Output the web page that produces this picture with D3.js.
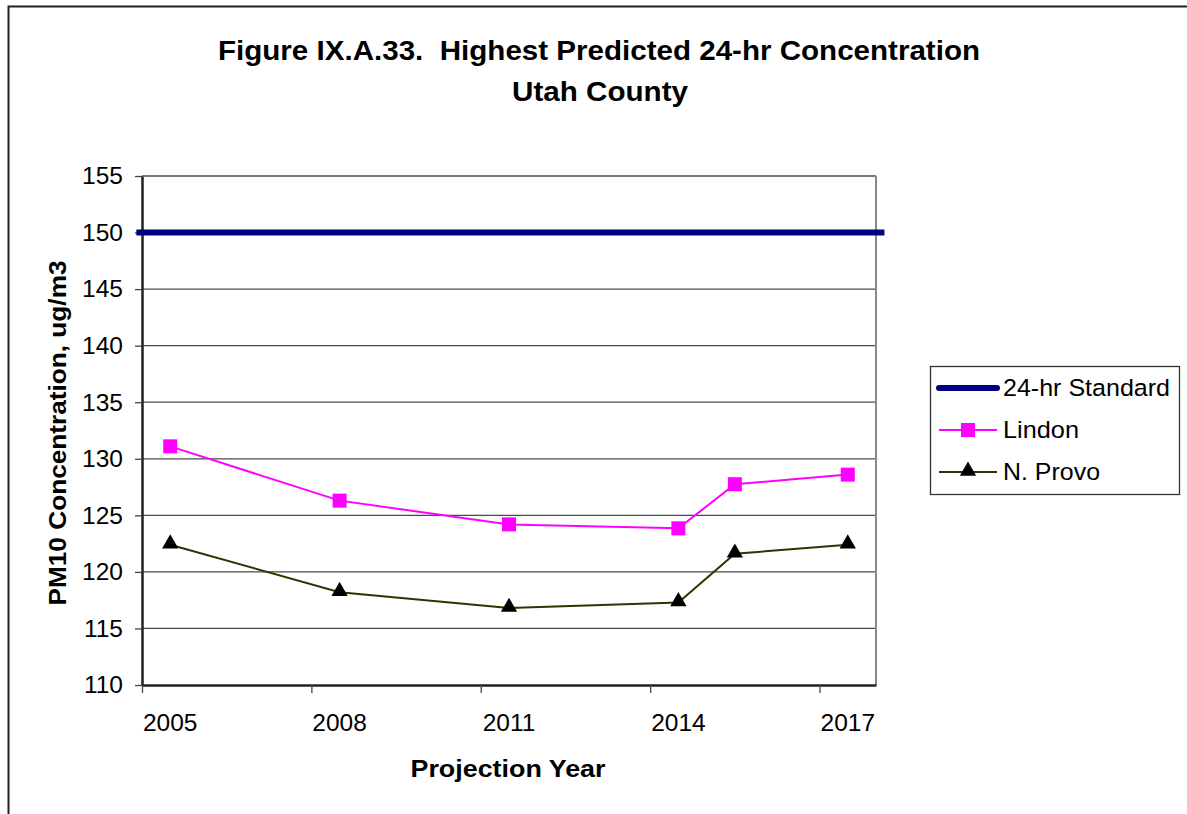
<!DOCTYPE html>
<html lang="en">
<head>
    <meta charset="utf-8">
    <title>Highest Predicted 24-hr Concentration - Utah County</title>
    <script src="https://d3js.org/d3.v7.min.js"></script>
    <style>
        body { margin: 0; background: #fff; }
        text { font-family: "Liberation Sans", Arial, sans-serif; fill: #000; }
    </style>
</head>
<body>
    <div id="chart-container"></div>

    <script>
        // data
        const years = [2005, 2008, 2011, 2014, 2015, 2017];
        const lindon = [131.1, 126.3, 124.2, 123.85, 127.75, 128.6];
        const nProvo = [122.4, 118.2, 116.8, 117.3, 121.6, 122.4];
        const standardYears = [2004.4, 2017.65];
        const standardValues = [150, 150];

        const yTicks = [110, 115, 120, 125, 130, 135, 140, 145, 150, 155];
        const xLabels = [2005, 2008, 2011, 2014, 2017];
        const xTickMarks = [2004.5, 2007.5, 2010.5, 2013.5, 2016.5];
        const seriesNames = ['24-hr Standard', 'Lindon', 'N. Provo'];

        const width = 1187;
        const height = 814;

        const plotLeft = 142;
        const plotRight = 876;
        const plotTop = 176;
        const plotBottom = 685;

        const svg = d3.select('#chart-container')
            .append('svg')
            .attr('width', width)
            .attr('height', height);

        // outer frame (only top and left edges show)
        svg.append('path')
            .attr('d', `M8.5,${height} V6.5 H${width}`)
            .style('fill', 'none')
            .style('stroke', '#222')
            .style('stroke-width', 2);

        const xScale = d3.scaleLinear()  // one category per year, 2005..2017
            .domain([2004.5, 2017.5])
            .range([plotLeft, plotRight]);

        const yScale = d3.scaleLinear()
            .domain([110, 155])
            .range([plotBottom, plotTop]);

        // grid lines
        svg.selectAll('line.grid')
            .data(yTicks.slice(1))
            .enter()
            .append('line')
            .attr('class', 'grid')
            .attr('x1', plotLeft)
            .attr('x2', plotRight)
            .attr('y1', d => yScale(d))
            .attr('y2', d => yScale(d))
            .style('stroke', '#4a4a4a')
            .style('stroke-width', 1.3);

        // plot area right border
        svg.append('line')
            .attr('x1', plotRight).attr('x2', plotRight)
            .attr('y1', plotTop).attr('y2', plotBottom)
            .style('stroke', '#888')
            .style('stroke-width', 2);

        // y axis
        const yAxis = d3.axisLeft(yScale)
            .tickValues(yTicks)
            .tickSize(7)
            .tickSizeOuter(0)
            .tickPadding(12)
            .tickFormat(d3.format('d'));
        const yAxisG = svg.append('g')
            .attr('transform', `translate(${plotLeft},0)`)
            .call(yAxis);
        yAxisG.select('.domain').style('stroke', '#222').style('stroke-width', 2.5);
        yAxisG.selectAll('.tick line').style('stroke', '#444').style('stroke-width', 1.3);
        yAxisG.selectAll('.tick text')
            .style('font-size', '24.5px')
            .style('font-family', '"Liberation Sans", Arial, sans-serif');

        // x axis: tick marks on category boundaries, labels centred in category
        const xAxis = d3.axisBottom(xScale)
            .tickValues(xTickMarks)
            .tickSize(8)
            .tickSizeOuter(0)
            .tickFormat('');
        const xAxisG = svg.append('g')
            .attr('transform', `translate(0,${plotBottom})`)
            .call(xAxis);
        xAxisG.select('.domain').style('stroke', '#222').style('stroke-width', 2.5);
        xAxisG.selectAll('.tick line').style('stroke', '#444').style('stroke-width', 1.3);

        svg.selectAll('text.x-label')
            .data(xLabels)
            .enter()
            .append('text')
            .attr('class', 'x-label')
            .attr('x', d => xScale(d))
            .attr('y', 731)
            .attr('text-anchor', 'middle')
            .style('font-size', '24.5px')
            .text(d => d);

        // standard line
        const stdLine = d3.line()
            .x((d, i) => xScale(standardYears[i]))
            .y(d => yScale(d));
        svg.append('path')
            .datum(standardValues)
            .attr('d', stdLine)
            .style('fill', 'none')
            .style('stroke', '#000080')
            .style('stroke-width', 6);

        const line = d3.line()
            .x((d, i) => xScale(years[i]))
            .y(d => yScale(d));

        // Lindon
        svg.append('path')
            .datum(lindon)
            .attr('d', line)
            .style('fill', 'none')
            .style('stroke', '#ff00ff')
            .style('stroke-width', 2);
        svg.selectAll('rect.lindon')
            .data(lindon)
            .enter()
            .append('rect')
            .attr('class', 'lindon')
            .attr('x', (d, i) => xScale(years[i]) - 7)
            .attr('y', d => yScale(d) - 7)
            .attr('width', 14)
            .attr('height', 14)
            .style('fill', '#ff00ff');

        // N. Provo
        const triangle = d3.symbol().type(d3.symbolTriangle).size(115);
        svg.append('path')
            .datum(nProvo)
            .attr('d', line)
            .style('fill', 'none')
            .style('stroke', '#333300')
            .style('stroke-width', 2);
        svg.selectAll('path.provo')
            .data(nProvo)
            .enter()
            .append('path')
            .attr('class', 'provo')
            .attr('d', triangle)
            .attr('transform', (d, i) => `translate(${xScale(years[i])},${yScale(d) - 1})`)
            .style('fill', '#000');

        // titles
        svg.append('text')
            .attr('x', 599)
            .attr('y', 60)
            .attr('text-anchor', 'middle')
            .attr('textLength', 762)
            .attr('lengthAdjust', 'spacingAndGlyphs')
            .style('white-space', 'pre')
            .style('font-size', '27px')
            .style('font-weight', 'bold')
            .text('Figure IX.A.33.  Highest Predicted 24-hr Concentration');
        svg.append('text')
            .attr('x', 600)
            .attr('y', 101)
            .attr('text-anchor', 'middle')
            .attr('textLength', 176)
            .attr('lengthAdjust', 'spacingAndGlyphs')
            .style('font-size', '27px')
            .style('font-weight', 'bold')
            .text('Utah County');

        svg.append('text')
            .attr('x', 508)
            .attr('y', 777)
            .attr('text-anchor', 'middle')
            .attr('textLength', 195)
            .attr('lengthAdjust', 'spacingAndGlyphs')
            .style('font-size', '24px')
            .style('font-weight', 'bold')
            .text('Projection Year');

        svg.append('text')
            .attr('transform', 'rotate(-90)')
            .attr('x', -433)
            .attr('y', 66)
            .attr('text-anchor', 'middle')
            .attr('textLength', 345)
            .attr('lengthAdjust', 'spacingAndGlyphs')
            .style('font-size', '23px')
            .style('font-weight', 'bold')
            .text('PM10 Concentration, ug/m3');

        // legend
        const legend = svg.append('g');
        legend.append('rect')
            .attr('x', 930.5)
            .attr('y', 366.5)
            .attr('width', 249)
            .attr('height', 128)
            .style('fill', '#fff')
            .style('stroke', '#333')
            .style('stroke-width', 1.3);

        const legendY = d3.scalePoint()
            .domain(seriesNames)
            .range([388, 472]);
        const legendStroke = ['#000080', '#ff00ff', '#333300'];
        const legendWidth = [6, 2, 2];

        legend.selectAll('line.key')
            .data(seriesNames)
            .enter()
            .append('line')
            .attr('class', 'key')
            .attr('x1', 939)
            .attr('x2', 997)
            .attr('y1', d => legendY(d))
            .attr('y2', d => legendY(d))
            .attr('stroke-linecap', (d, i) => i === 0 ? 'round' : 'butt')
            .style('stroke', (d, i) => legendStroke[i])
            .style('stroke-width', (d, i) => legendWidth[i]);

        legend.append('rect')
            .attr('x', 968 - 7)
            .attr('y', legendY('Lindon') - 7)
            .attr('width', 14)
            .attr('height', 14)
            .style('fill', '#ff00ff');
        legend.append('path')
            .attr('d', triangle)
            .attr('transform', `translate(968,${legendY('N. Provo') - 1})`)
            .style('fill', '#000');

        legend.selectAll('text.key')
            .data(seriesNames)
            .enter()
            .append('text')
            .attr('class', 'key')
            .attr('x', 1003)
            .attr('y', d => legendY(d) + 8)
            .attr('textLength', (d, i) => [167, 76, 97][i])
            .attr('lengthAdjust', 'spacingAndGlyphs')
            .style('font-size', '24.5px')
            .text(d => d);
    </script>
</body>
</html>
